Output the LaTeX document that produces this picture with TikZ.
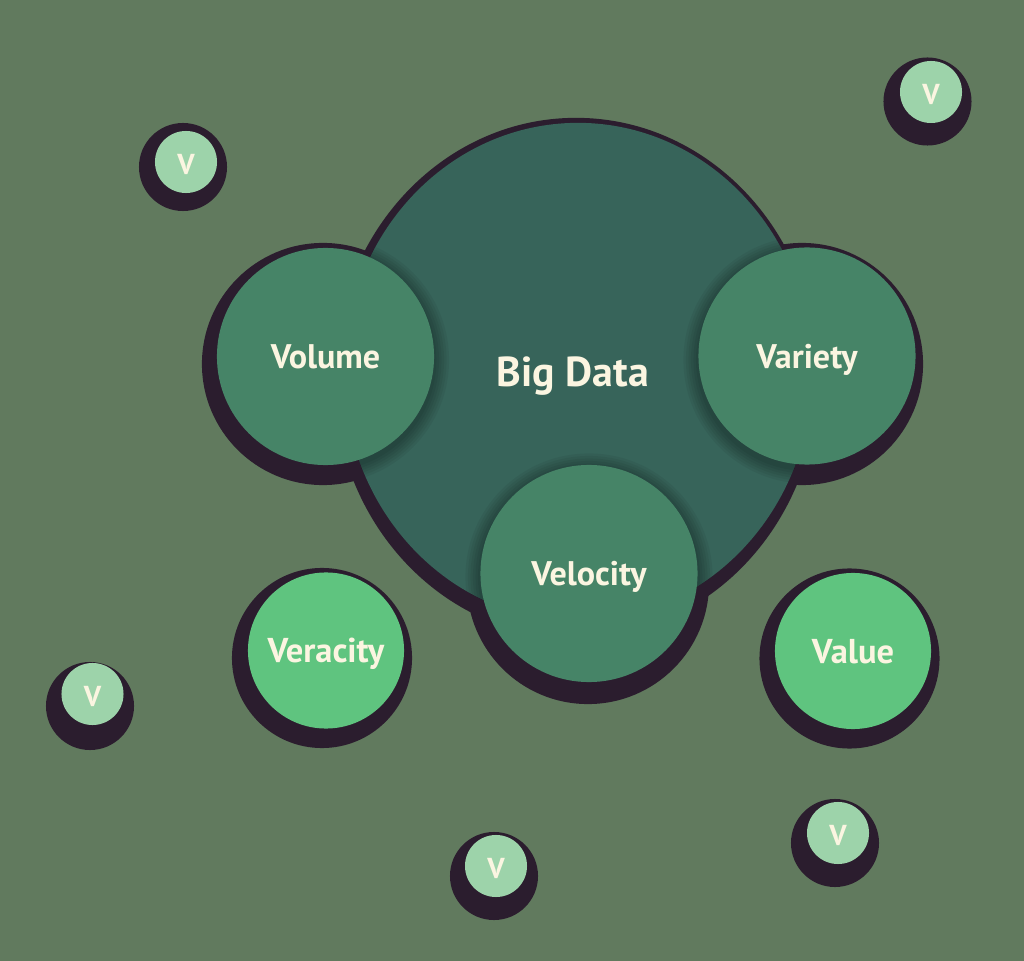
\documentclass[tikz,border=0pt]{standalone}
\usepackage{fontspec}
\setmainfont{PT Sans}
\usetikzlibrary{shapes.geometric}

\definecolor{bgc}{HTML}{617A5E}
\definecolor{inkc}{HTML}{2B1D2E}
\definecolor{bigc}{HTML}{37645A}
\definecolor{midc}{HTML}{468467}
\definecolor{brightc}{HTML}{5FC47F}
\definecolor{palec}{HTML}{9DD3AA}
\definecolor{textc}{HTML}{FBF5E1}

\begin{document}
\begin{tikzpicture}[
  x=0.01cm, y=-0.01cm,
  disc/.style={circle, inner sep=0pt, text=textc, text height=0.7em, text depth=0pt},
  bigsh/.style={ellipse, fill=inkc, inner sep=0pt, minimum width=4.84cm, minimum height=5.2cm},
  bigbody/.style={ellipse, fill=bigc, inner sep=0pt, minimum width=4.68cm, minimum height=4.98cm},
  title/.style={text=textc, inner sep=0pt, text height=0.7em, text depth=0pt,
    font=\bfseries\fontsize{11.9}{14}\selectfont},
  midsh/.style={circle, fill=inkc, inner sep=0pt, minimum size=2.42cm},
  mid/.style={disc, fill=midc, minimum size=2.17cm, font=\bfseries\fontsize{9.7}{11}\selectfont},
  brightsh/.style={circle, fill=inkc, inner sep=0pt, minimum size=1.8cm},
  bright/.style={disc, fill=brightc, minimum size=1.56cm, font=\bfseries\fontsize{9.8}{11}\selectfont},
  palesh/.style={circle, fill=inkc, inner sep=0pt, minimum size=0.88cm},
  pale/.style={disc, fill=palec, minimum size=0.62cm, font=\bfseries\fontsize{8.2}{9}\selectfont}
]
  \fill[bgc] (0,0) rectangle (1024,961);

  % dark backing discs
  \node[bigsh] (bigdark) at (576,378) {};
  \node[midsh] (volumedark) at (323,364) {};
  \node[midsh] (varietydark) at (802,364) {};
  \node[midsh] (velocitydark) at (588,583) {};
  \node[brightsh] (veracitydark) at (322,658) {};
  \node[brightsh] (valuedark) at (849.5,658.5) {};
  \node[palesh] (vadark) at (183,167) {};
  \node[palesh] (vbdark) at (927.5,101.5) {};
  \node[palesh] (vcdark) at (90,706) {};
  \node[palesh] (vddark) at (494,876) {};
  \node[palesh] (vedark) at (835,843) {};

  \node[bigbody] (big) at (578,372) {};
  \node[title] (bigtitle) at (573,374) {Big Data};

  % soft shade of the three inner discs
  \begin{scope}
    \clip (578,372) ellipse [x radius=2.34cm, y radius=2.49cm];
    \foreach \cx/\cy in {325.5/360, 807/360, 589/577}
      \foreach \k in {1,...,6}
        \fill[black, opacity=0.05] (\cx,\cy) circle [radius=10.85mm+\k*0.25mm];
  \end{scope}

  \node[mid] (volume) at (325.5,356.5) {Volume};
  \node[mid] (variety) at (807,356) {Variety};
  \node[mid] (velocity) at (589,573.5) {Velocity};
  \node[bright] (veracity) at (326,650.5) {Veracity};
  \node[bright] (value) at (853,651) {Value};

  \node[pale] (va) at (186,162) {V};
  \node[pale] (vb) at (931,92) {V};
  \node[pale] (vc) at (92.5,694) {V};
  \node[pale] (vd) at (496,866) {V};
  \node[pale] (ve) at (838,833) {V};
\end{tikzpicture}
\end{document}
